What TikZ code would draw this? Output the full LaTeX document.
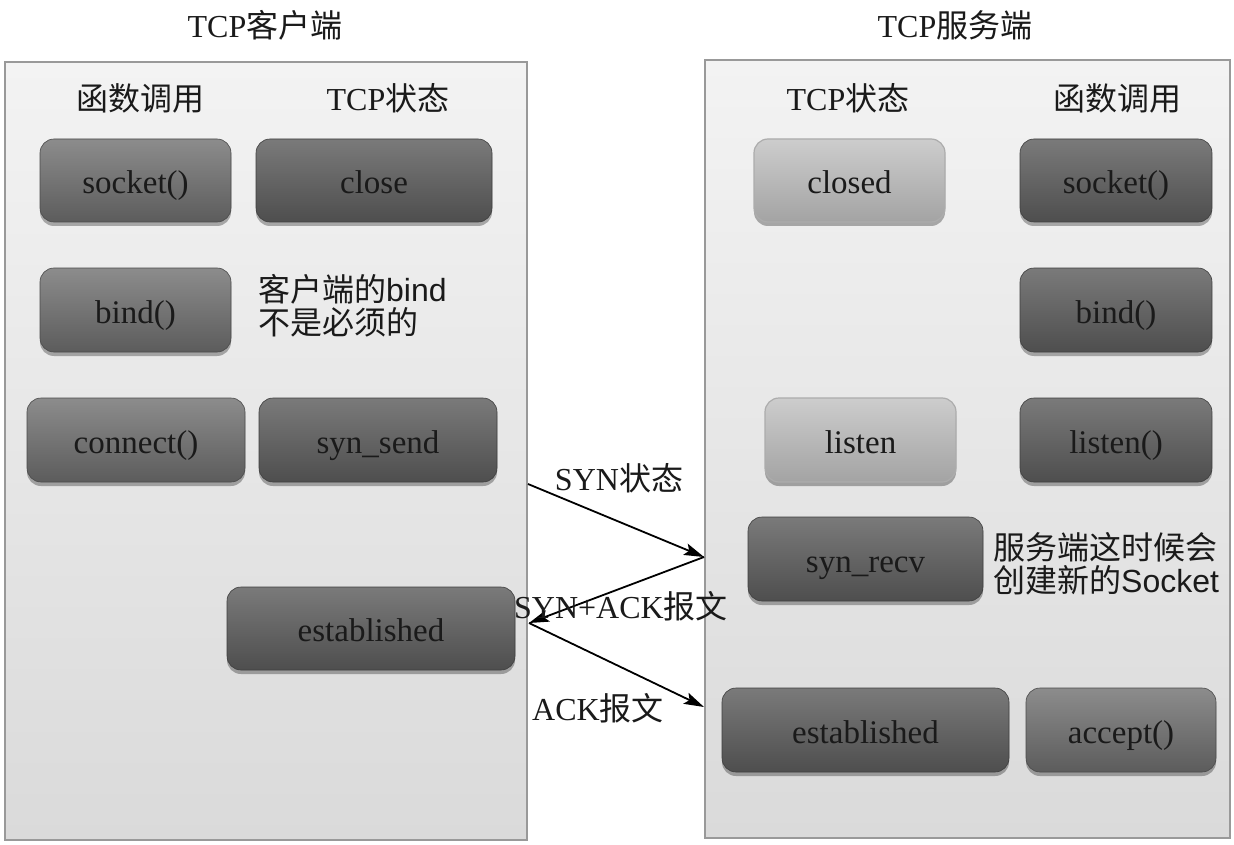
\documentclass[tikz,border=0pt]{standalone}
\usepackage{fontspec}
\setmainfont{Liberation Serif}
\newfontfamily\cjk{Noto Sans CJK SC}
\newfontfamily\sansf{Liberation Sans}
\usetikzlibrary{shadows,arrows.meta}
\definecolor{dtop}{HTML}{7A7A7A}
\definecolor{dbot}{HTML}{4E4E4E}
\definecolor{ftop}{HTML}{8C8C8C}
\definecolor{fbot}{HTML}{5C5C5C}
\definecolor{ltop}{HTML}{CDCDCD}
\definecolor{lbot}{HTML}{A3A3A3}
\definecolor{ptop}{HTML}{F3F3F3}
\definecolor{pbot}{HTML}{DADADA}
\definecolor{pline}{HTML}{999999}
\definecolor{txt}{HTML}{1A1A1A}
\begin{document}
\begin{tikzpicture}[x=1pt,y=-1pt,
  every node/.style={text=txt},
  basebox/.style={rounded corners=14pt, inner sep=0pt, minimum height=83pt,
    text height=29pt, text depth=3pt,
    font=\fontsize{33}{35}\selectfont,
    drop shadow={shadow xshift=0pt, shadow yshift=-4pt, opacity=0.3, fill=black}},
  darkbox/.style={basebox, top color=dtop, bottom color=dbot, draw=dbot!80!black, line width=0.6pt},
  funcbox/.style={basebox, top color=ftop, bottom color=fbot, draw=fbot!80!black, line width=0.6pt},
  lightbox/.style={basebox, top color=ltop, bottom color=lbot, draw=lbot!90!white, line width=1.2pt},
  panel/.style={draw=pline, line width=2pt, top color=ptop, bottom color=pbot},
  head/.style={font=\fontsize{32}{34}\selectfont, inner sep=0pt},
  note/.style={font=\fontsize{32}{33}\selectfont, inner sep=0pt, align=left, anchor=north west},
  msg/.style={draw=black, line width=1.8pt, -{Stealth[length=20pt,width=12pt,inset=4pt]}}
]
\useasboundingbox (0,0) rectangle (1234,845);
\fill[white] (0,0) rectangle (1234,845);

% panels
\node[panel, minimum width=522pt, minimum height=778pt, inner sep=0pt] (lp) at (266,451) {};
\node[panel, minimum width=525pt, minimum height=778pt, inner sep=0pt] (rp) at (967.5,449) {};

% titles
\node[head] (lt) at (265,25) {TCP{\cjk 客户端}};
\node[head] (rt) at (955,25) {TCP{\cjk 服务端}};

% column headers
\node[head] (lh1) at (140,98) {{\cjk 函数调用}};
\node[head] (lh2) at (388,98) {TCP{\cjk 状态}};
\node[head] (rh1) at (848,98) {TCP{\cjk 状态}};
\node[head] (rh2) at (1117,98) {{\cjk 函数调用}};

% client boxes
\node[funcbox, minimum width=191pt] (csock) at (135.5,180.5) {socket()};
\node[darkbox, minimum width=236pt] (cclose) at (374,180.5) {close};
\node[funcbox, minimum width=191pt, minimum height=84pt] (cbind) at (135.5,310) {bind()};
\node[note] (cnote) at (258,274) {{\cjk 客户端的}{\sansf bind}\\{\cjk 不是必须的}};
\node[funcbox, minimum width=218pt, minimum height=84pt] (cconn) at (136,440) {connect()};
\node[darkbox, minimum width=238pt, minimum height=84pt] (csyn) at (378,440) {syn\_send};
\node[darkbox, minimum width=288pt] (cest) at (371,628.5) {established};

% server boxes
\node[lightbox, minimum width=191pt] (sclosed) at (849.5,180.5) {closed};
\node[darkbox, minimum width=192pt] (ssock) at (1116,180.5) {socket()};
\node[darkbox, minimum width=192pt, minimum height=84pt] (sbind) at (1116,310) {bind()};
\node[lightbox, minimum width=191pt, minimum height=84pt] (slisten) at (860.5,440) {listen};
\node[darkbox, minimum width=192pt, minimum height=84pt] (slistenf) at (1116,440) {listen()};
\node[darkbox, minimum width=235pt, minimum height=84pt] (srecv) at (865.5,559) {syn\_recv};
\node[note] (snote) at (993,532) {{\cjk 服务端这时候会}\\{\cjk 创建新的}{\sansf Socket}};
\node[darkbox, minimum width=287pt, minimum height=84pt] (sest) at (865.5,730) {established};
\node[funcbox, minimum width=190pt, minimum height=84pt] (sacc) at (1121,730) {accept()};

% message arrows
\coordinate (a1) at (528,484);
\coordinate (a2) at (704,557);
\coordinate (a3) at (529,623);
\coordinate (a4) at (704,707);
\draw[msg] (a1) -- (a2);
\draw[msg] (a2) -- (a3);
\draw[msg] (a3) -- (a4);

\node[head] (m1) at (619,478) {SYN{\cjk 状态}};
\node[head] (m2) at (621,606) {SYN+ACK{\cjk 报文}};
\node[head] (m3) at (598,708) {ACK{\cjk 报文}};
\end{tikzpicture}
\end{document}
